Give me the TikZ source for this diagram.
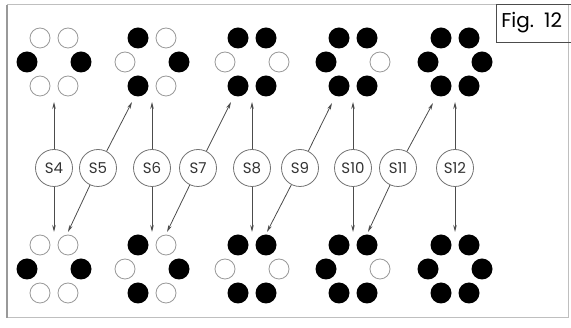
\documentclass[tikz,border=0pt]{standalone}
\usepackage{fontspec}
\setmainfont{Poppins}
\usetikzlibrary{arrows.meta}
\tikzset{
  ball/.style={circle,fill=black,inner sep=0pt,minimum size=21pt},
  hole/.style={circle,draw=black!40,line width=0.8pt,fill=white,inner sep=0pt,minimum size=20pt},
  sw/.style={circle,draw=black!55,line width=0.8pt,inner sep=0pt,minimum size=37pt,text=black!80,font=\fontsize{15}{15}\selectfont},
  link/.style={draw=black!70,line width=0.8pt,-{Stealth[length=7pt,width=3.5pt]}}
}
\begin{document}
\begin{tikzpicture}[x=1pt,y=-1pt]
\useasboundingbox (0,0) rectangle (571,328);
\clip (0,0) rectangle (571,328);
% frame
\draw[black!25,line width=1pt] (7,5) rectangle (568,318);
\draw[black!40,line width=2pt] (7,5) -- (7,318);
\node[draw=black!70,line width=0.8pt,anchor=west,minimum height=38pt,minimum width=90pt,
  text width=80pt,inner xsep=3pt,align=left,font=\fontsize{20}{20}\selectfont] (fig) at (496,23) {Fig. 12};
% rings, top row and bottom row
\foreach \n/\x/\tl/\tr/\r/\br/\bl/\l in {
  1/54/hole/hole/ball/hole/hole/ball,
  2/152/ball/hole/ball/hole/ball/hole,
  3/252/ball/ball/hole/ball/ball/hole,
  4/353/ball/ball/hole/ball/ball/ball,
  5/455/ball/ball/ball/ball/ball/ball}
  \foreach \y/\g in {62/T,269/B} {
    \node[\tl] (\g\n-tl) at (\x-14,\y-24) {};
    \node[\tr] (\g\n-tr) at (\x+14,\y-24) {};
    \node[\r] (\g\n-r) at (\x+27,\y) {};
    \node[\br] (\g\n-br) at (\x+14,\y+24) {};
    \node[\bl] (\g\n-bl) at (\x-14,\y+24) {};
    \node[\l] (\g\n-l) at (\x-27,\y) {};
  }
% arrow ends
\coordinate (T1u) at (54,102);
\coordinate (T2u) at (152,102);
\coordinate (T3u) at (252,102);
\coordinate (T4u) at (353,102);
\coordinate (T5u) at (455,102);
\coordinate (B1d) at (54,232);
\coordinate (B2d) at (152,232);
\coordinate (B3d) at (252,232);
\coordinate (B4d) at (353,232);
\coordinate (B5d) at (455,232);
\coordinate (T2x) at (132,102);
\coordinate (T3x) at (231,102);
\coordinate (T4x) at (332,103);
\coordinate (T5x) at (433,103);
\coordinate (B1x) at (68,232);
\coordinate (B2x) at (167,232);
\coordinate (B3x) at (267,232);
\coordinate (B4x) at (368,232);
% switches
\node[sw] (S4) at (54,168) {S4};
\node[sw] (S5) at (98,168) {S5};
\node[sw] (S6) at (152,168) {S6};
\node[sw] (S7) at (198,168) {S7};
\node[sw] (S8) at (252,168) {S8};
\node[sw] (S9) at (300,168) {S9};
\node[sw] (S10) at (353,168) {S10};
\node[sw] (S11) at (398,168) {S11};
\node[sw] (S12) at (455,168) {S12};
\draw[link] (S4) -- (T1u);
\draw[link] (S4) -- (B1d);
\draw[link] (S5) -- (T2x);
\draw[link] (S5) -- (B1x);
\draw[link] (S6) -- (T2u);
\draw[link] (S6) -- (B2d);
\draw[link] (S7) -- (T3x);
\draw[link] (S7) -- (B2x);
\draw[link] (S8) -- (T3u);
\draw[link] (S8) -- (B3d);
\draw[link] (S9) -- (T4x);
\draw[link] (S9) -- (B3x);
\draw[link] (S10) -- (T4u);
\draw[link] (S10) -- (B4d);
\draw[link] (S11) -- (T5x);
\draw[link] (S11) -- (B4x);
\draw[link] (S12) -- (T5u);
\draw[link] (S12) -- (B5d);
\end{tikzpicture}
\end{document}
